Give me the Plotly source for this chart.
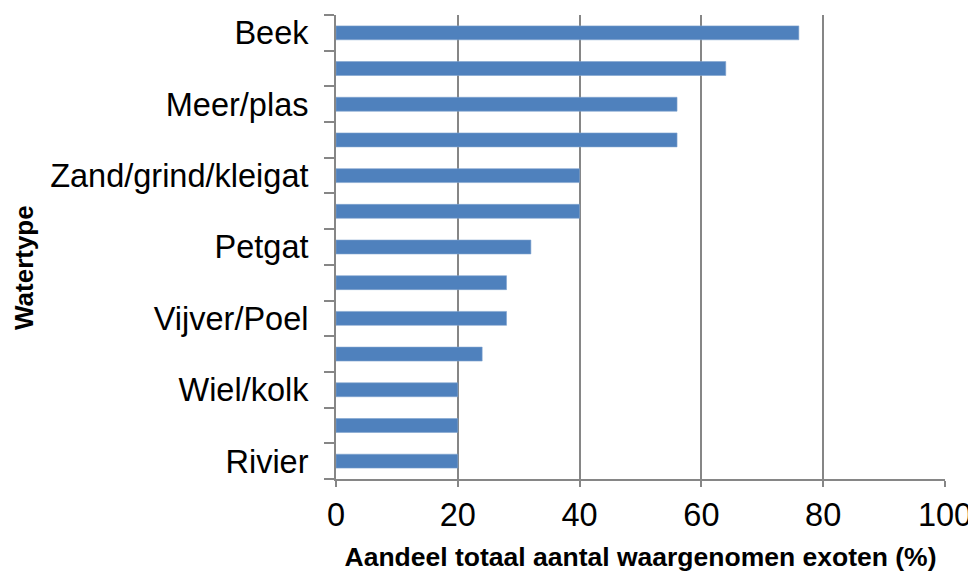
import plotly.graph_objects as go

# Categories bottom-to-top; only every other label is shown in the original chart
labels = ["Rivier", "", "Wiel/kolk", "", "Vijver/Poel", "", "Petgat", "",
          "Zand/grind/kleigat", "", "Meer/plas", "", "Beek"]
values = [20, 20, 20, 24, 28, 28, 32, 40, 40, 56, 56, 64, 76]
positions = list(range(len(values)))
x_ticks = [0, 20, 40, 60, 80, 100]

shown_pos = [p for p, l in zip(positions, labels) if l]
shown_txt = [l for l in labels if l]

fig = go.Figure(go.Bar(
    x=values, y=positions, orientation="h",
    marker=dict(color="#4F81BD", line=dict(color="#7fa3cf", width=0.6)),
    width=0.39, hoverinfo="x",
))

gray = "#868686"
font = "Liberation Sans, Arial, sans-serif"

# The page body has an 8px default margin, so the figure is drawn 8px in/down
fig.update_layout(
    width=968, height=567,
    margin=dict(l=328, r=31, t=7, b=96, autoexpand=False),
    paper_bgcolor="white", plot_bgcolor="white",
    showlegend=False,
    font=dict(family=font, color="black"),
    xaxis=dict(
        range=[0, 100], tickvals=x_ticks, ticktext=[str(v) for v in x_ticks],
        showgrid=True, gridcolor=gray, gridwidth=2,
        zeroline=False, showline=True, linecolor=gray, linewidth=2,
        ticks="outside", ticklen=6, tickcolor=gray, tickwidth=2,
        tickfont=dict(size=32.5, family=font),
        title=dict(text="<b>Aandeel totaal aantal waargenomen exoten (%)</b>",
                   font=dict(size=26.5, family=font), standoff=15),
        automargin=False, fixedrange=True,
    ),
    yaxis=dict(
        range=[-0.5, 12.5], tickmode="array", tickvals=shown_pos, ticktext=shown_txt,
        showgrid=False, zeroline=False, showline=True, linecolor=gray, linewidth=2,
        ticks="", ticklabelstandoff=19,
        minor=dict(tick0=0.5, dtick=1, ticks="outside", ticklen=10,
                   tickcolor=gray, tickwidth=2, showgrid=False),
        tickfont=dict(size=32.5, family=font),
        automargin=False, fixedrange=True,
    ),
    annotations=[dict(
        text="<b>Watertype</b>", xref="paper", yref="paper",
        x=0, y=0.4547, xanchor="center", yanchor="middle",
        xshift=-312, textangle=-90, showarrow=False,
        font=dict(size=26, family=font, color="black"),
    )],
)

fig.write_html("out.html")
